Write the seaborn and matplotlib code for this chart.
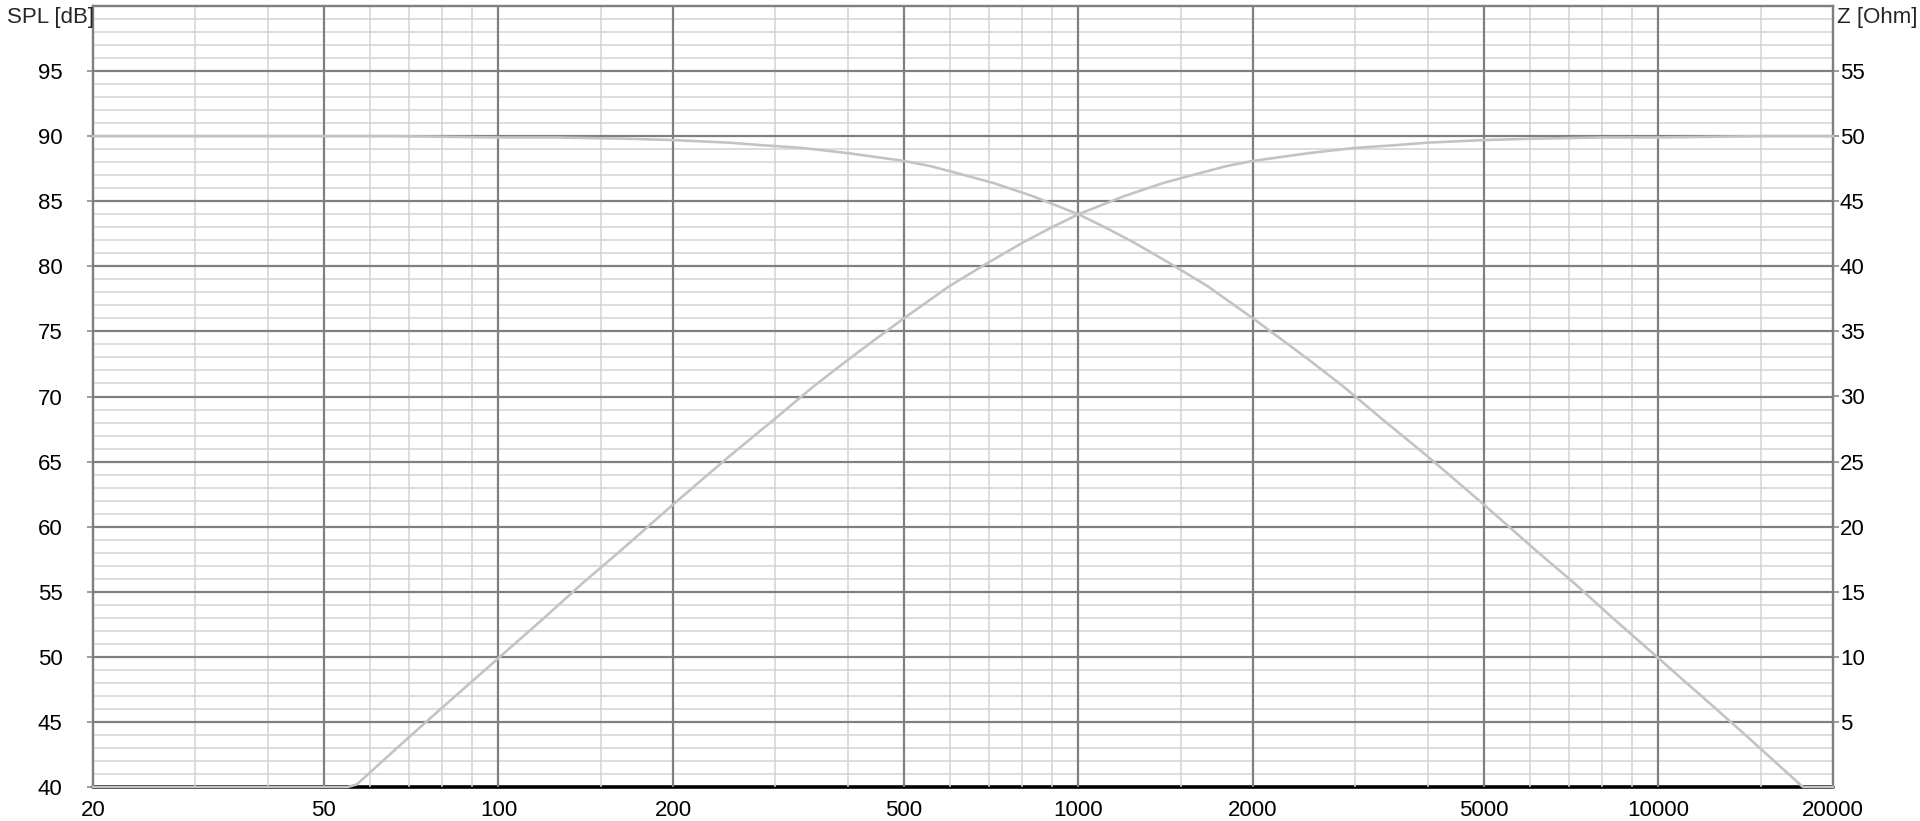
import numpy as np
import pandas as pd
import matplotlib
matplotlib.use("Agg")
import matplotlib.pyplot as plt
import matplotlib.ticker as mticker
import seaborn as sns

# Hochpass / Tiefpass (SPL in dB)
hp_freq = [20, 30, 40, 50, 55, 57, 60, 65, 70, 80, 90, 100, 120, 140, 160, 180,
           200, 250, 300, 350, 400, 450, 500, 600, 700, 800, 900, 1000, 1200,
           1400, 1600, 1800, 2000, 2500, 3000, 3500, 4000, 5000, 6000, 8000,
           10000, 15000, 20000]
hp_spl = [40.0, 40.0, 40.0, 40.0, 40.0, 40.2, 41.1, 42.5, 43.8, 46.1, 48.1, 49.9,
          53.0, 55.7, 57.9, 59.9, 61.7, 65.4, 68.3, 70.8, 72.8, 74.5, 76.0, 78.5,
          80.3, 81.8, 83.0, 84.0, 85.4, 86.4, 87.1, 87.7, 88.1, 88.7, 89.1, 89.3,
          89.5, 89.7, 89.8, 89.9, 89.9, 90.0, 90.0]

lp_freq = [20, 50, 67, 100, 125, 167, 200, 250, 286, 333, 400, 500, 556, 625,
           714, 833, 1000, 1111, 1250, 1429, 1667, 2000, 2222, 2500, 2857, 3333,
           4000, 5000, 5556, 6250, 7143, 8333, 10000, 11111, 12500, 14286, 15385,
           16667, 17544, 17750, 20000]
lp_spl = [90.0, 90.0, 90.0, 89.9, 89.9, 89.8, 89.7, 89.5, 89.3, 89.1, 88.7, 88.1,
          87.7, 87.1, 86.4, 85.4, 84.0, 83.0, 81.8, 80.3, 78.5, 76.0, 74.5, 72.8,
          70.8, 68.3, 65.4, 61.7, 59.9, 57.9, 55.7, 53.0, 49.9, 48.1, 46.1, 43.8,
          42.5, 41.1, 40.2, 40.0, 40.0]

# Impedanz (rechte Achse), liegt bei 0 Ohm
z_freq = [20, 20000]
z_ohm = [0.0, 0.0]

x_major = [20, 50, 100, 200, 500, 1000, 2000, 5000, 10000, 20000]
x_minor = [30, 40, 60, 70, 80, 90, 150, 300, 400, 600, 700, 800, 900, 1500,
           3000, 4000, 6000, 7000, 8000, 9000, 15000]
spl_ticks = [40, 45, 50, 55, 60, 65, 70, 75, 80, 85, 90, 95]
z_ticks = [5, 10, 15, 20, 25, 30, 35, 40, 45, 50, 55]

hp = pd.DataFrame({"f": hp_freq, "spl": hp_spl})
lp = pd.DataFrame({"f": lp_freq, "spl": lp_spl})
zz = pd.DataFrame({"f": z_freq, "z": z_ohm})

sns.set_theme(style="white")
plt.rcParams['font.family'] = ['Liberation Sans', 'DejaVu Sans']

PX = 0.72
DARK = "#7f7f7f"
LIGHT = "#d2d2d2"
CURVE = "#c3c3c3"
FS = 16

fig = plt.figure(figsize=(19.2, 8.21), dpi=100)
ax = fig.add_axes([93 / 1920, 34 / 821, 1740 / 1920, 781 / 821])
ax2 = ax.twinx()

ax.set_xscale("log")
ax.set_xlim(20, 20000)
ax.set_ylim(40, 100)
ax2.set_ylim(0, 60)

# Gitter
for y in range(41, 100):
    if y % 5 != 0:
        ax.axhline(y, color=LIGHT, lw=1.5 * PX, zorder=0.5)
for y in range(45, 100, 5):
    ax.axhline(y, color=DARK, lw=2.2 * PX, zorder=0.6)
for x in x_minor:
    ax.axvline(x, color=LIGHT, lw=1.5 * PX, zorder=0.5)
for x in x_major[1:-1]:
    ax.axvline(x, color=DARK, lw=2.2 * PX, zorder=0.6)

# Impedanz unter den SPL-Kurven
ax2.set_zorder(ax.get_zorder() - 1)
ax.patch.set_visible(False)
ax2.patch.set_visible(True)
ax2.patch.set_facecolor("white")
sns.lineplot(data=zz, x="f", y="z", ax=ax2, color="black", lw=3.6 * PX,
             clip_on=False)

sns.lineplot(data=hp, x="f", y="spl", ax=ax, color=CURVE, lw=2.6 * PX,
             clip_on=False, zorder=3)
sns.lineplot(data=lp, x="f", y="spl", ax=ax, color=CURVE, lw=2.6 * PX,
             clip_on=False, zorder=3)

ax.xaxis.set_major_locator(mticker.FixedLocator(x_major))
ax.xaxis.set_major_formatter(mticker.FixedFormatter([str(v) for v in x_major]))
ax.xaxis.set_minor_locator(mticker.NullLocator())
ax.set_yticks(spl_ticks)
ax.set_yticklabels([str(v) for v in spl_ticks])
ax2.set_yticks(z_ticks)
ax2.set_yticklabels([str(v) for v in z_ticks])

ax.set_xlabel("")
ax.set_ylabel("")
ax2.set_ylabel("")

for a in (ax, ax2):
    a.tick_params(axis="both", which="major", direction="out", length=4,
                  width=1.5 * PX, color=DARK, labelsize=FS, labelcolor="black")
    for s in a.spines.values():
        s.set_color(DARK)
        s.set_linewidth(2.2 * PX)
    a.spines["bottom"].set_visible(False)
    a.grid(False)
ax.tick_params(axis="y", pad=18)
ax.tick_params(axis="x", pad=5)
ax2.tick_params(axis="y", pad=1)

fig.text(7 / 1920, 1 - 18 / 821, "SPL [dB]", fontsize=FS, ha="left", va="center")
fig.text(1837 / 1920, 1 - 18 / 821, "Z [Ohm]", fontsize=FS, ha="left", va="center")

fig.savefig("out.png", dpi=100)
